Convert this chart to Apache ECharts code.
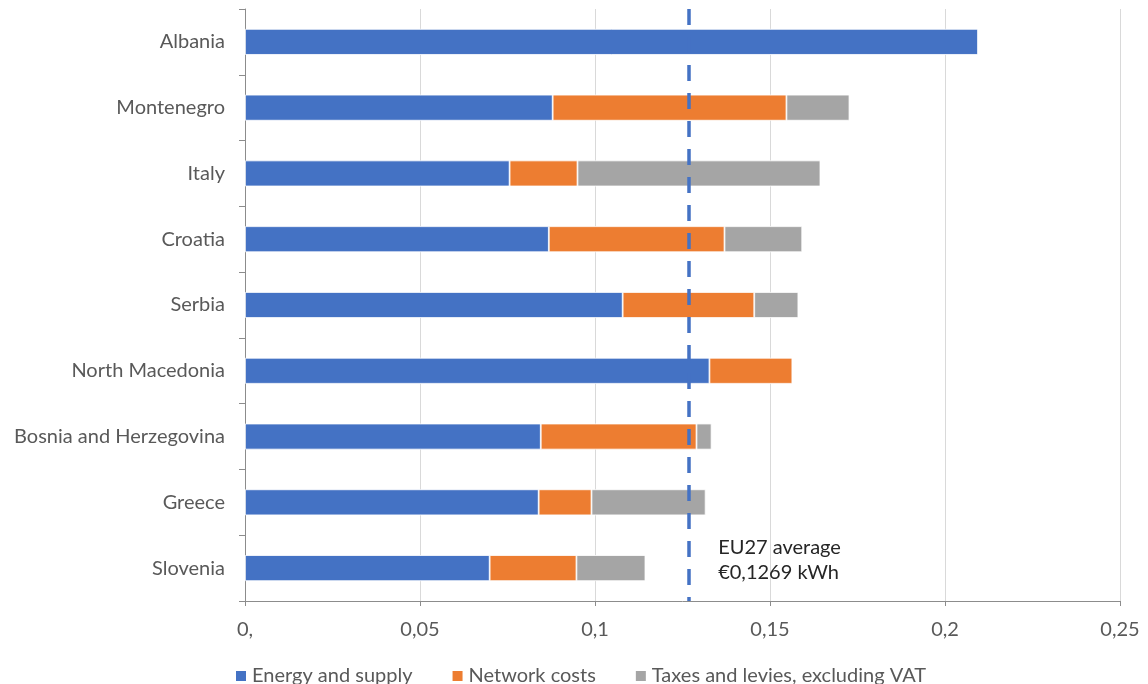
<!DOCTYPE html>
<html>
<head>
<meta charset="utf-8">
<script src="https://cdn.jsdelivr.net/npm/echarts@6/dist/echarts.min.js"></script>
<style>
  html, body { margin: 0; padding: 0; background: #fff; }
  #chart { width: 1148px; height: 684px; }
</style>
</head>
<body>
<div id="chart"></div>
<script>
// Household electricity price components, EUR per kWh
const countries = ['Albania', 'Montenegro', 'Italy', 'Croatia', 'Serbia',
  'North Macedonia', 'Bosnia and Herzegovina', 'Greece', 'Slovenia'];
const energySupply = [0.2095, 0.0879, 0.0756, 0.0868, 0.1079, 0.1327, 0.0845, 0.0839, 0.0699];
const networkCosts = [0, 0.0668, 0.0194, 0.0502, 0.0376, 0.0237, 0.0445, 0.0151, 0.0248];
const taxesLevies = [0, 0.0180, 0.0694, 0.0222, 0.0126, 0, 0.0043, 0.0326, 0.0197];
const seriesNames = ['Energy and supply', 'Network costs', 'Taxes and levies, excluding VAT'];
const eu27Average = 0.1269;
const annotationLines = ['EU27 average', '€0,1269 kWh'];

const FONT = 'Lato, "Open Sans", sans-serif';
const colors = ['#4472C4', '#ED7D31', '#A5A5A5'];

const chart = echarts.init(document.getElementById('chart'), null, { renderer: 'canvas' });

function fmtTick(v) {
  if (v === 0) return '0,';
  return String(+v.toFixed(2)).replace('.', ',');
}

const values = [energySupply, networkCosts, taxesLevies];
const series = values.map((data, i) => ({
  name: seriesNames[i],
  type: 'bar',
  stack: 'total',
  barWidth: 26,
  data: data,
  itemStyle: { color: colors[i], borderColor: '#fff', borderWidth: 0.8 },
  emphasis: { disabled: true }
}));

// Unstacked carrier series for the EU27 average reference line
series.push({
  name: 'EU27 average',
  type: 'line',
  data: [],
  silent: true,
  markLine: {
    silent: true,
    symbol: 'none',
    precision: 4,
    label: { show: false },
    lineStyle: { color: '#4472C4', width: 3.5, type: [16, 12] },
    data: [{ xAxis: eu27Average }]
  }
});

chart.setOption({
  animation: false,
  color: colors,
  grid: { left: 245, right: 28, top: 9, bottom: 83 },
  xAxis: {
    type: 'value',
    min: 0, max: 0.25, interval: 0.05,
    axisLine: { show: true, lineStyle: { color: '#8c8c8c', width: 1 } },
    axisTick: { show: true, length: 5, lineStyle: { color: '#8c8c8c' } },
    splitLine: { show: true, lineStyle: { color: '#d9d9d9', width: 1 } },
    axisLabel: { formatter: fmtTick, color: '#595959', fontFamily: FONT, fontSize: 20, margin: 19 }
  },
  yAxis: {
    type: 'category',
    inverse: true,
    data: countries,
    axisLine: { show: true, lineStyle: { color: '#8c8c8c', width: 1 } },
    axisTick: { show: true, length: 6, lineStyle: { color: '#8c8c8c' } },
    axisLabel: { color: '#595959', fontFamily: FONT, fontSize: 20, margin: 20 }
  },
  legend: {
    top: 661,
    left: 229,
    icon: 'rect',
    itemWidth: 12,
    itemHeight: 12,
    itemGap: 38,
    selectedMode: false,
    textStyle: { color: '#595959', fontFamily: FONT, fontSize: 20 },
    data: seriesNames
  },
  series: series
});

// EU27 average annotation next to the dashed line
const anchor = chart.convertToPixel({ xAxisIndex: 0, yAxisIndex: 0 }, [eu27Average, countries.length - 1]);
chart.setOption({
  graphic: [{
    type: 'text',
    left: anchor[0] + 29,
    top: anchor[1] - 33,
    style: {
      text: annotationLines.join('\n'),
      fill: '#262626',
      fontFamily: FONT,
      fontSize: 20,
      lineHeight: 25
    },
    silent: true
  }]
});
</script>
</body>
</html>
